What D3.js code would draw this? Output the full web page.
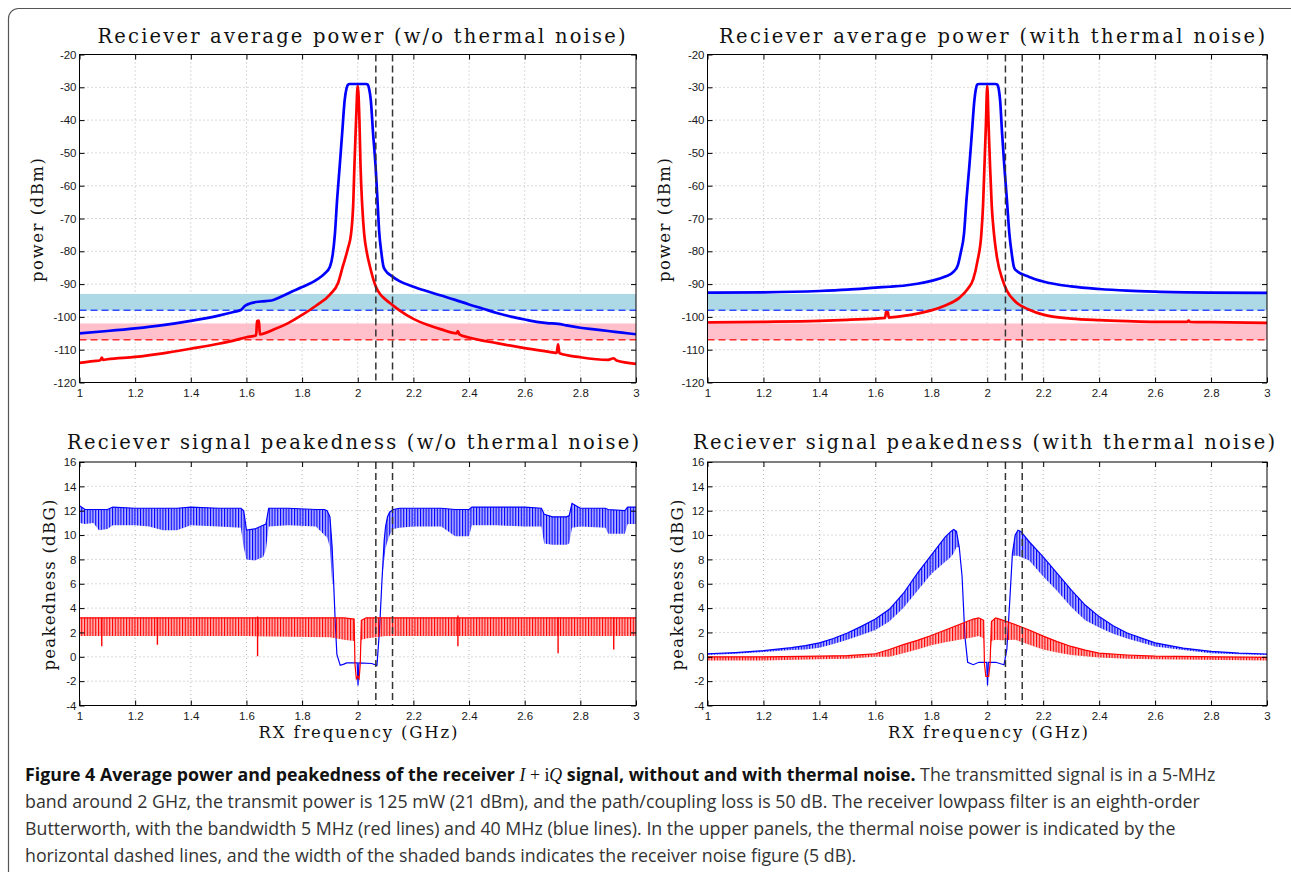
<!DOCTYPE html>
<html>
<head>
<meta charset="utf-8">
<script src="https://cdn.jsdelivr.net/npm/d3@7"></script>
<style>
  body { margin: 0; background: #fff; }
  .tick text { font-family: "Liberation Sans", Arial, sans-serif; font-size: 11.5px; fill: #1a1a1a; }
  .serif { font-family: "DejaVu Serif", "Liberation Serif", serif; fill: #111; }
  .cap { font-family: "Open Sans", "Noto Sans", sans-serif; font-size: 17.8px; }
</style>
</head>
<body>
<div class="fig"></div>
<script>
var W = 1291, H = 872;

// ticks
var xTicks = [1, 1.2, 1.4, 1.6, 1.8, 2, 2.2, 2.4, 2.6, 2.8, 3];
var powerTicks = [-120, -110, -100, -90, -80, -70, -60, -50, -40, -30, -20];
var peakTicks = [-4, -2, 0, 2, 4, 6, 8, 10, 12, 14, 16];

// receiver band edges (GHz) and thermal noise levels (dBm)
var rxEdges = [2.065, 2.125];
var noiseBlue = -98, noiseRed = -107, noiseFigure = 5;

// average power, w/o thermal noise  [GHz, dBm]
var pwrBlueDry = [[1.0,-105.0],[1.1,-104.3],[1.2,-103.5],[1.3,-102.5],[1.4,-101.2],[1.5,-99.6],[1.55,-98.6],[1.58,-97.9],[1.595,-96.6],[1.61,-96.0],[1.65,-95.3],[1.69,-95.0],[1.72,-94.0],[1.76,-92.4],[1.8,-90.9],[1.85,-88.8],[1.88,-86.9],[1.9,-84.7],[1.91,-81],[1.918,-74.6],[1.926,-64],[1.935,-54.2],[1.944,-44],[1.953,-33.9],[1.96,-30.2],[1.965,-29.2],[1.97,-29],[2.03,-29],[2.036,-29.2],[2.041,-30.5],[2.047,-34],[2.055,-44],[2.064,-54],[2.07,-63],[2.077,-74],[2.085,-80.5],[2.092,-84.5],[2.1,-85.9],[2.12,-87.4],[2.15,-89.1],[2.2,-90.8],[2.25,-92.2],[2.3,-93.5],[2.35,-94.8],[2.4,-96.2],[2.45,-97.5],[2.5,-98.8],[2.55,-99.9],[2.6,-100.8],[2.65,-101.6],[2.68,-101.9],[2.72,-102.1],[2.75,-102.6],[2.8,-103.3],[2.85,-103.8],[2.9,-104.3],[2.95,-104.8],[3.0,-105.3]];
var pwrRedDry = [[1.0,-114.0],[1.05,-113.5],[1.075,-113.2],[1.08,-112.4],[1.085,-113.1],[1.1,-112.9],[1.2,-112.2],[1.3,-111.1],[1.4,-109.7],[1.5,-108.2],[1.55,-107.3],[1.6,-106.2],[1.635,-105.6],[1.638,-101.3],[1.645,-101.1],[1.648,-105.3],[1.7,-103.8],[1.75,-101.9],[1.8,-99.4],[1.85,-96.6],[1.9,-93.2],[1.93,-89.5],[1.946,-84.7],[1.965,-79],[1.976,-74.6],[1.984,-65],[1.988,-54],[1.994,-40],[2.0,-29.5],[2.006,-40],[2.01,-54],[2.016,-66],[2.023,-74.6],[2.033,-80.5],[2.044,-84.7],[2.066,-91],[2.08,-93],[2.1,-94.7],[2.125,-96.4],[2.15,-98],[2.2,-100.6],[2.25,-102.4],[2.3,-103.8],[2.355,-105],[2.36,-104.3],[2.365,-105.3],[2.4,-106.3],[2.5,-108.0],[2.6,-109.5],[2.7,-110.8],[2.715,-111],[2.72,-108.4],[2.725,-111.1],[2.8,-112.3],[2.9,-113.1],[2.92,-112.6],[2.93,-113.3],[3.0,-114.3]];

// average power, with thermal noise
var pwrBlueTN = [[1.0,-92.6],[1.2,-92.5],[1.4,-92.1],[1.5,-91.7],[1.6,-91.1],[1.65,-90.8],[1.7,-90.5],[1.75,-89.9],[1.8,-89.0],[1.85,-87.7],[1.88,-86.2],[1.895,-84.2],[1.905,-80.5],[1.917,-74.6],[1.926,-64],[1.936,-54],[1.945,-44],[1.954,-34],[1.96,-30.3],[1.964,-29.2],[1.97,-29],[2.03,-29],[2.036,-29.2],[2.041,-30.5],[2.046,-34],[2.053,-44],[2.061,-54],[2.07,-64],[2.079,-74.6],[2.088,-81],[2.095,-84.7],[2.1,-85.6],[2.15,-87.8],[2.2,-89.2],[2.3,-90.7],[2.4,-91.5],[2.5,-92.0],[2.6,-92.3],[2.8,-92.6],[3.0,-92.7]];
var pwrRedTN = [[1.0,-101.7],[1.2,-101.5],[1.4,-101.2],[1.5,-100.9],[1.6,-100.5],[1.635,-100.3],[1.638,-98.5],[1.645,-98.6],[1.648,-100.2],[1.7,-99.7],[1.75,-99.0],[1.8,-98.0],[1.85,-96.5],[1.9,-94.2],[1.93,-91.5],[1.95,-88.5],[1.965,-83],[1.979,-74.6],[1.985,-66],[1.99,-54],[1.995,-42],[2.0,-29.5],[2.005,-42],[2.01,-54],[2.016,-66],[2.024,-74.6],[2.035,-82],[2.055,-88.8],[2.07,-92],[2.1,-95.3],[2.15,-97.8],[2.2,-99.3],[2.3,-100.5],[2.4,-101.0],[2.5,-101.3],[2.6,-101.5],[2.715,-101.5],[2.72,-101.1],[2.725,-101.5],[2.8,-101.6],[3.0,-101.8]];

// peakedness, w/o thermal noise  [GHz, comb top, comb bottom] (dBG)
var pkBlueDry = [[1.0,12.4,11.0],[1.02,12.1,10.9],[1.05,12.1,11.0],[1.07,12.1,10.4],[1.1,12.1,10.5],[1.12,12.3,10.8],[1.2,12.2,10.8],[1.25,12.2,10.7],[1.3,12.2,10.4],[1.35,12.2,10.4],[1.4,12.3,10.8],[1.5,12.2,10.7],[1.58,12.2,10.6],[1.59,12.0,9.0],[1.6,10.4,8.0],[1.63,10.5,7.9],[1.66,10.8,8.2],[1.67,10.9,8.8],[1.68,12.2,10.7],[1.75,12.2,10.8],[1.85,12.1,10.7],[1.88,12.1,10.0],[1.89,12.0,9.8],[1.9,11.5,9.0],[1.908,9.0,6.0],[1.913,6.3,6.0],[1.919,2.9,2.9],[1.925,0.2,0.2],[1.937,-0.7,-0.7],[1.95,-0.6,-0.6],[1.96,-0.5,-0.5],[1.998,-0.5,-0.5],[2.001,-2.35,-2.35],[2.004,-0.5,-0.5],[2.05,-0.55,-0.55],[2.069,-0.7,-0.7],[2.078,2.1,2.1],[2.087,6.25,6.25],[2.095,9.55,8.0],[2.1,10.7,8.9],[2.107,11.5,9.5],[2.115,11.9,10.0],[2.128,12.1,10.5],[2.15,12.2,10.6],[2.2,12.2,10.7],[2.3,12.2,10.7],[2.35,12.1,9.9],[2.4,12.1,9.9],[2.41,12.3,10.8],[2.5,12.3,10.8],[2.6,12.3,10.7],[2.66,12.2,10.7],[2.67,11.7,9.3],[2.7,11.5,9.2],[2.75,11.5,9.2],[2.76,11.6,9.3],[2.77,12.6,10.6],[2.8,12.2,10.7],[2.89,12.2,10.6],[2.9,12.1,10.1],[2.96,12.0,10.1],[2.97,12.3,10.9],[3.0,12.3,10.9]];
var pkRedDry = [[1.0,3.2,1.7],[1.6,3.2,1.7],[1.9,3.2,1.6],[1.95,3.2,1.4],[1.987,3.1,1.3],[1.99,-0.6,-0.6],[1.995,-1.8,-1.8],[2.0,-1.6,-1.6],[2.005,-1.8,-1.8],[2.009,-0.6,-0.6],[2.013,3.0,1.4],[2.03,3.2,1.5],[2.1,3.2,1.7],[3.0,3.2,1.7]];
// isolated deep teeth of the red comb  [GHz, top, bottom]
var pkRedDrySpikes = [[1.08,3.2,0.86],[1.28,3.2,1.0],[1.64,3.3,0.05],[2.36,3.4,0.86],[2.72,3.2,0.3],[2.92,3.2,0.6]];

// peakedness, with thermal noise
var pkBlueTN = [[1.0,0.25,0.15],[1.1,0.35,0.25],[1.2,0.5,0.4],[1.3,0.75,0.55],[1.35,0.92,0.6],[1.4,1.15,0.75],[1.45,1.5,1.05],[1.5,1.95,1.4],[1.55,2.5,1.8],[1.6,3.1,2.2],[1.65,3.9,2.9],[1.7,5.2,4.0],[1.75,6.85,5.4],[1.8,8.35,6.8],[1.85,9.85,7.8],[1.87,10.3,8.2],[1.88,10.45,8.5],[1.89,10.3,9.0],[1.9,9.0,9.0],[1.91,6.6,6.6],[1.92,1.7,1.7],[1.93,-0.45,-0.45],[1.95,-0.65,-0.65],[1.97,-0.45,-0.45],[1.998,-0.45,-0.45],[2.001,-2.35,-2.35],[2.004,-0.45,-0.45],[2.03,-0.45,-0.45],[2.06,-0.65,-0.65],[2.07,0.6,0.6],[2.08,4.4,4.4],[2.09,8.5,8.3],[2.1,10.0,8.3],[2.11,10.4,8.3],[2.12,10.3,8.2],[2.15,9.45,7.9],[2.2,8.2,6.6],[2.25,6.85,5.4],[2.3,5.5,4.1],[2.35,4.25,3.0],[2.4,3.3,2.4],[2.45,2.55,1.9],[2.5,1.95,1.5],[2.6,1.15,0.85],[2.7,0.72,0.55],[2.8,0.45,0.3],[2.9,0.3,0.2],[3.0,0.23,0.15]];
var pkRedTN = [[1.0,0.0,-0.3],[1.2,0.0,-0.3],[1.4,0.05,-0.2],[1.5,0.1,-0.15],[1.6,0.25,0.0],[1.65,0.6,0.0],[1.7,1.0,0.3],[1.75,1.35,0.6],[1.8,1.75,0.95],[1.85,2.2,1.2],[1.9,2.65,1.4],[1.95,3.1,1.6],[1.97,3.2,1.7],[1.987,3.0,1.5],[1.99,-0.6,-0.6],[1.995,-1.6,-1.6],[2.0,-1.6,-1.6],[2.005,-1.6,-1.6],[2.01,-0.6,-0.6],[2.015,2.9,1.3],[2.03,3.2,1.4],[2.05,3.05,1.35],[2.1,2.65,1.4],[2.15,2.2,1.0],[2.2,1.7,0.6],[2.25,1.25,0.35],[2.3,0.85,0.15],[2.35,0.55,0.05],[2.4,0.3,-0.05],[2.5,0.15,-0.15],[2.6,0.05,-0.2],[3.0,-0.05,-0.3]];

var svg = d3.select(".fig").append("svg").attr("width", W).attr("height", H);
var defs = svg.append("defs");

// comb texture for the peakedness traces
[["combBlue", "#0000ff"], ["combRed", "#ff0000"]].forEach(function (p) {
  var pat = defs.append("pattern").attr("id", p[0])
    .attr("patternUnits", "userSpaceOnUse").attr("width", 2.8).attr("height", 6);
  pat.append("rect").attr("width", 2.8).attr("height", 6).attr("fill", p[1]).attr("opacity", 0.3);
  pat.append("rect").attr("width", 1.1).attr("height", 6).attr("fill", p[1]);
});

// figure frame
svg.append("rect").attr("x", 8.5).attr("y", 8.5).attr("width", 1400).attr("height", 1000)
  .attr("rx", 10).attr("fill", "none").attr("stroke", "#555").attr("stroke-width", 1.2);

function panel(o) {
  var x = d3.scaleLinear().domain([1, 3]).range([o.x0, o.x1]);
  var y = d3.scaleLinear().domain([o.yTicks[0], o.yTicks[o.yTicks.length - 1]]).range([o.y1, o.y0]);
  var g = svg.append("g");
  var cid = "clip" + o.id;
  defs.append("clipPath").attr("id", cid).append("rect")
    .attr("x", o.x0).attr("y", o.y0).attr("width", o.x1 - o.x0).attr("height", o.y1 - o.y0);

  // dotted grid
  g.selectAll(".gx").data(xTicks.slice(1, -1)).enter().append("line")
    .attr("x1", x).attr("x2", x).attr("y1", o.y0).attr("y2", o.y1)
    .attr("stroke", "#b5b5b5").attr("stroke-width", 1).attr("stroke-dasharray", "1,3");
  g.selectAll(".gy").data(o.yTicks.slice(1, -1)).enter().append("line")
    .attr("y1", y).attr("y2", y).attr("x1", o.x0).attr("x2", o.x1)
    .attr("stroke", "#b5b5b5").attr("stroke-width", 1).attr("stroke-dasharray", "1,3");

  var plot = g.append("g").attr("clip-path", "url(#" + cid + ")");

  if (o.power) {
    // shaded noise-figure bands and thermal noise lines
    [[noiseBlue, "#add8e6", "#2f4dff"], [noiseRed, "#ffc0cb", "#ff2a2a"]].forEach(function (b) {
      plot.append("rect").attr("x", o.x0).attr("width", o.x1 - o.x0)
        .attr("y", y(b[0] + noiseFigure)).attr("height", y(b[0]) - y(b[0] + noiseFigure))
        .attr("fill", b[1]);
      plot.append("line").attr("x1", o.x0).attr("x2", o.x1).attr("y1", y(b[0])).attr("y2", y(b[0]))
        .attr("stroke", b[2]).attr("stroke-width", 1.5).attr("stroke-dasharray", "7,4");
    });
    var line = d3.line().x(function (d) { return x(d[0]); }).y(function (d) { return y(d[1]); })
      .curve(d3.curveMonotoneX);
    [[o.red, "#ff0000"], [o.blue, "#0000ff"]].forEach(function (s) {
      plot.append("path").attr("d", line(s[0])).attr("fill", "none")
        .attr("stroke", s[1]).attr("stroke-width", 2.7).attr("stroke-linejoin", "round");
    });
  } else {
    var area = d3.area().x(function (d) { return x(d[0]); })
      .y0(function (d) { return y(d[2]); }).y1(function (d) { return y(d[1]); });
    var top = d3.line().x(function (d) { return x(d[0]); }).y(function (d) { return y(d[1]); });
    [[o.blue, "combBlue", "#0000ff"], [o.red, "combRed", "#ff0000"]].forEach(function (s) {
      plot.append("path").attr("d", area(s[0])).attr("fill", "url(#" + s[1] + ")");
      plot.append("path").attr("d", top(s[0])).attr("fill", "none")
        .attr("stroke", s[2]).attr("stroke-width", 1.2);
    });
    if (o.spikes) {
      plot.selectAll(".sp").data(o.spikes).enter().append("line")
        .attr("x1", function (d) { return x(d[0]); }).attr("x2", function (d) { return x(d[0]); })
        .attr("y1", function (d) { return y(d[1]); }).attr("y2", function (d) { return y(d[2]); })
        .attr("stroke", "#ff0000").attr("stroke-width", 1.4);
    }
  }

  // receiver band edges
  plot.selectAll(".rx").data(rxEdges).enter().append("line")
    .attr("x1", x).attr("x2", x).attr("y1", o.y0).attr("y2", o.y1)
    .attr("stroke", "#333").attr("stroke-width", 1.5).attr("stroke-dasharray", "7,4");

  // axes: MATLAB box with inward ticks
  var fmt = function (d) { return String(d); };
  g.append("g").attr("transform", "translate(0," + o.y1 + ")")
    .call(d3.axisBottom(x).tickValues(xTicks).tickFormat(fmt).tickSize(-5).tickSizeOuter(0).tickPadding(6));
  g.append("g").attr("transform", "translate(0," + o.y0 + ")")
    .call(d3.axisTop(x).tickValues(xTicks).tickFormat("").tickSize(-5).tickSizeOuter(0));
  g.append("g").attr("transform", "translate(" + o.x0 + ",0)")
    .call(d3.axisLeft(y).tickValues(o.yTicks).tickFormat(fmt).tickSize(-5).tickSizeOuter(0).tickPadding(3));
  g.append("g").attr("transform", "translate(" + o.x1 + ",0)")
    .call(d3.axisRight(y).tickValues(o.yTicks).tickFormat("").tickSize(-5).tickSizeOuter(0));
  g.selectAll(".domain").remove();
  g.selectAll(".tick line").attr("stroke", "#000");
  g.append("rect").attr("x", o.x0).attr("y", o.y0).attr("width", o.x1 - o.x0).attr("height", o.y1 - o.y0)
    .attr("fill", "none").attr("stroke", "#000").attr("stroke-width", 1);

  // texts
  g.append("text").attr("class", "serif").attr("x", o.tx).attr("y", o.ty)
    .attr("font-size", 19.5).attr("textLength", o.tw).attr("lengthAdjust", "spacing").text(o.title);
  g.append("text").attr("class", "serif")
    .attr("transform", "translate(" + o.yl[0] + "," + o.yl[1] + ") rotate(-90)")
    .attr("text-anchor", "middle").attr("font-size", 16.5)
    .attr("textLength", o.yl[2]).attr("lengthAdjust", "spacing").text(o.ylabel);
  if (o.xl) {
    g.append("text").attr("class", "serif").attr("x", o.xl[0]).attr("y", o.xl[1])
      .attr("text-anchor", "middle").attr("font-size", 16.5)
      .attr("textLength", o.xl[2]).attr("lengthAdjust", "spacing").text("RX frequency (GHz)");
  }
}

panel({ id: 1, power: true, x0: 79.5, x1: 636, y0: 54.5, y1: 382.5, yTicks: powerTicks,
  blue: pwrBlueDry, red: pwrRedDry,
  title: "Reciever average power (w/o thermal noise)", tx: 97.5, ty: 43, tw: 528,
  ylabel: "power (dBm)", yl: [43, 220, 124] });
panel({ id: 2, power: true, x0: 707.5, x1: 1267, y0: 54.5, y1: 382.5, yTicks: powerTicks,
  blue: pwrBlueTN, red: pwrRedTN,
  title: "Reciever average power (with thermal noise)", tx: 719, ty: 43, tw: 546,
  ylabel: "power (dBm)", yl: [670, 220, 124] });
panel({ id: 3, power: false, x0: 79.5, x1: 636, y0: 462, y1: 705.5, yTicks: peakTicks,
  blue: pkBlueDry, red: pkRedDry, spikes: pkRedDrySpikes,
  title: "Reciever signal peakedness (w/o thermal noise)", tx: 67, ty: 449, tw: 572,
  ylabel: "peakedness (dBG)", yl: [55, 585, 171], xl: [358, 738, 199] });
panel({ id: 4, power: false, x0: 707.5, x1: 1267, y0: 462, y1: 705.5, yTicks: peakTicks,
  blue: pkBlueTN, red: pkRedTN,
  title: "Reciever signal peakedness (with thermal noise)", tx: 693, ty: 449, tw: 582,
  ylabel: "peakedness (dBG)", yl: [683, 585, 171], xl: [988, 738, 200] });

// caption
var cap = svg.append("g").attr("class", "cap");
var t1 = cap.append("text").attr("x", 25).attr("y", 781);
t1.append("tspan").attr("font-weight", 700).attr("fill", "#111")
  .text("Figure 4 Average power and peakedness of the receiver ");
t1.append("tspan").attr("font-family", "Liberation Serif, serif").attr("font-style", "italic").attr("fill", "#111").text("I");
t1.append("tspan").attr("font-family", "Liberation Serif, serif").attr("fill", "#111").text(" + i");
t1.append("tspan").attr("font-family", "Liberation Serif, serif").attr("font-style", "italic").attr("fill", "#111").text("Q");
t1.append("tspan").attr("font-weight", 700).attr("fill", "#111").text(" signal, without and with thermal noise.");
t1.append("tspan").attr("fill", "#333").text(" The transmitted signal is in a 5-MHz");
var capLines = [
  "band around 2 GHz, the transmit power is 125 mW (21 dBm), and the path/coupling loss is 50 dB. The receiver lowpass filter is an eighth-order",
  "Butterworth, with the bandwidth 5 MHz (red lines) and 40 MHz (blue lines). In the upper panels, the thermal noise power is indicated by the",
  "horizontal dashed lines, and the width of the shaded bands indicates the receiver noise figure (5 dB)."
];
cap.selectAll(".ln").data(capLines).enter().append("text")
  .attr("x", 25).attr("y", function (d, i) { return 808 + i * 27; })
  .attr("fill", "#333").text(function (d) { return d; });
</script>
</body>
</html>
